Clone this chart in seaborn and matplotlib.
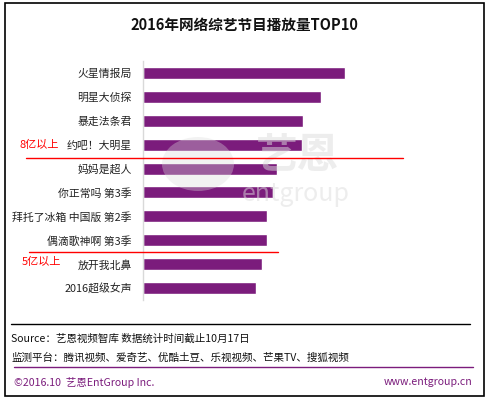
import matplotlib
matplotlib.use("Agg")
import matplotlib.pyplot as plt
import seaborn as sns
import pandas as pd
from matplotlib.lines import Line2D
from matplotlib.patches import Rectangle, Ellipse

shows = ["火星情报局", "明星大侦探", "暴走法条君", "约吧！大明星", "妈妈是超人",
         "你正常吗 第3季", "拜托了冰箱 中国版 第2季", "偶滴歌神啊 第3季", "放开我北鼻", "2016超级女声"]
views = [11.1, 9.8, 8.8, 8.75, 7.4, 7.15, 6.85, 6.85, 6.55, 6.2]  # 亿 (estimated)
title = "2016年网络综艺节目播放量TOP10"
note_8 = "8亿以上"
note_5 = "5亿以上"
source_text = "Source：艺恩视频智库 数据统计时间截止10月17日"
platform_text = "监测平台：腾讯视频、爱奇艺、优酷土豆、乐视视频、芒果TV、搜狐视频"
footer_left = "©2016.10  艺恩EntGroup Inc."
footer_right = "www.entgroup.cn"

sns.set_theme(style="white")
plt.rcParams['font.family'] = ['Noto Sans CJK SC', 'DejaVu Sans']

W, H = 488, 399
fig = plt.figure(figsize=(W / 100, H / 100), dpi=100)

def fx(x):
    return x / W

def fy(y):
    return 1 - y / H

PURPLE = "#7b1c7c"

ax = fig.add_axes([fx(143), fy(300), fx(470) - fx(143), fy(61) - fy(300)])
df = pd.DataFrame({"show": shows, "views": views})
sns.barplot(data=df, x="views", y="show", orient="h", color=PURPLE,
            saturation=1, width=0.5, ax=ax)
ax.set_xlim(0, 18)
ax.set_ylim(9.5, -0.5)
ax.set_xlabel("")
ax.set_ylabel("")
ax.set_xticks([])
for s in ["top", "right", "bottom"]:
    ax.spines[s].set_visible(False)
ax.spines["left"].set_color("#d9d9d9")
ax.spines["left"].set_linewidth(1.0)
ax.tick_params(axis="y", length=0, pad=8, labelsize=7.8, labelcolor="#222222")

# watermark
WM = "#dcdcdc"
fig.add_artist(Ellipse((fx(198), fy(164)), 72 / W, 54 / H, facecolor=WM,
                       edgecolor="none", alpha=0.35, zorder=10))
fig.text(fx(297), fy(156), "艺恩", fontsize=30, fontweight="bold", color=WM,
         alpha=0.5, ha="center", va="center", zorder=10)
fig.text(fx(296), fy(194), "entgroup", fontsize=18, color=WM,
         alpha=0.5, ha="center", va="center", zorder=10)

# title
fig.text(fx(244), fy(25), title, fontsize=10.5, fontweight="bold", color="#111111",
         ha="center", va="center")

# red separator lines and notes
fig.add_artist(Line2D([fx(26), fx(403)], [fy(158), fy(158)], color="#ff0000", lw=1.0, zorder=11))
fig.add_artist(Line2D([fx(29), fx(278)], [fy(252), fy(252)], color="#ff0000", lw=1.0, zorder=11))
fig.text(fx(20), fy(145), note_8, fontsize=8, color="#ff0000", ha="left", va="center")
fig.text(fx(22), fy(262), note_5, fontsize=8, color="#ff0000", ha="left", va="center")

# footer
fig.add_artist(Line2D([fx(11), fx(470)], [fy(324), fy(324)], color="#000000", lw=1.0))
fig.text(fx(11), fy(339), source_text, fontsize=7.6, color="#111111", ha="left", va="center")
fig.text(fx(11), fy(358), platform_text, fontsize=7.6, color="#111111", ha="left", va="center")
fig.add_artist(Line2D([fx(14), fx(473)], [fy(367), fy(367)], color=PURPLE, lw=1.0))
fig.text(fx(14), fy(382), footer_left, fontsize=7.6, color=PURPLE, ha="left", va="center")
fig.text(fx(472), fy(382), footer_right, fontsize=7.6, color=PURPLE, ha="right", va="center")

# outer border
fig.add_artist(Rectangle((fx(5), fy(396)), fx(484) - fx(5), fy(3) - fy(396),
                         fill=False, edgecolor="#000000", lw=1.2))

fig.savefig("out.png", dpi=100)
